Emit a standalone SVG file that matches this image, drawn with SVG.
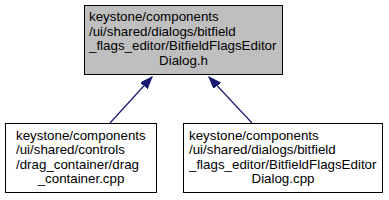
<svg xmlns="http://www.w3.org/2000/svg" width="389" height="200" viewBox="0 0 389 200">
<style>
.box{stroke:#000;stroke-width:1}
.t{font-family:"Liberation Sans",Arial,sans-serif;font-size:13.33px;fill:#000}
.e{stroke:#191970;stroke-width:1.2;fill:none}
</style>
<defs>
<marker id="ah" markerUnits="userSpaceOnUse" markerWidth="13" markerHeight="10" refX="12" refY="4.5" orient="auto">
<path d="M0,0 L12,4.5 L0,9 z" fill="#191970" stroke="#191970"/>
</marker>
</defs>
<rect width="389" height="200" fill="#fff"/>
<g id="connectors">
<line class="e" x1="110" y1="123" x2="152" y2="77" marker-end="url(#ah)"/>
<line class="e" x1="252" y1="123" x2="209" y2="77" marker-end="url(#ah)"/>
</g>
<g id="node_header">
<rect class="box" x="84.5" y="5.5" width="198" height="69" fill="#bfbfbf"/>
<text class="t" x="89" y="21">keystone/components</text>
<text class="t" x="89" y="35.5">/ui/shared/dialogs/bitfield</text>
<text class="t" x="89" y="50">_flags_editor/BitfieldFlagsEditor</text>
<text class="t" x="183.5" y="64.5" text-anchor="middle">Dialog.h</text>
</g>
<g id="node_drag">
<rect class="box" x="5.5" y="123.5" width="151" height="69" fill="#fff"/>
<text class="t" x="16" y="139.5">keystone/components</text>
<text class="t" x="16" y="154">/ui/shared/controls</text>
<text class="t" x="16" y="168.5">/drag_container/drag</text>
<text class="t" x="81" y="183" text-anchor="middle">_container.cpp</text>
</g>
<g id="node_dialog_cpp">
<rect class="box" x="183.5" y="123.5" width="199" height="69" fill="#fff"/>
<text class="t" x="189" y="139.5">keystone/components</text>
<text class="t" x="189" y="154">/ui/shared/dialogs/bitfield</text>
<text class="t" x="189" y="168.5">_flags_editor/BitfieldFlagsEditor</text>
<text class="t" x="283" y="183" text-anchor="middle">Dialog.cpp</text>
</g>
</svg>
